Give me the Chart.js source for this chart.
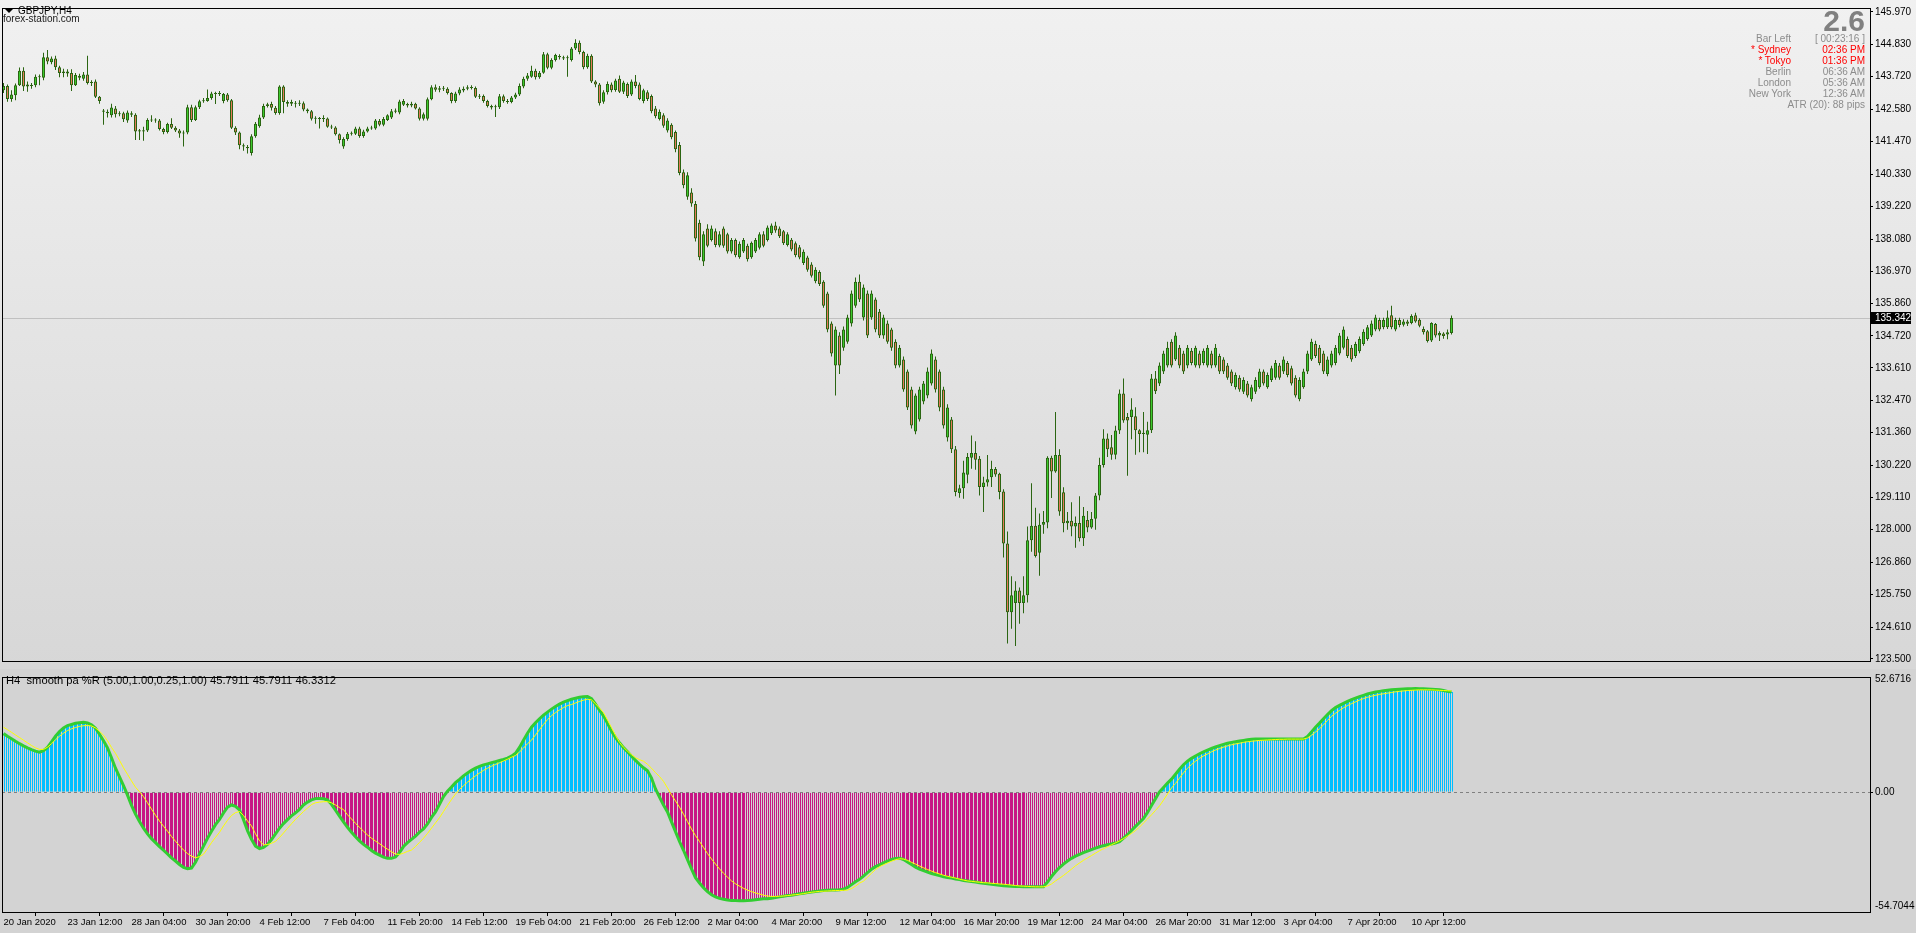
<!DOCTYPE html>
<html>
<head>
<meta charset="utf-8">
<script src="https://cdn.jsdelivr.net/npm/chart.js@4.4.1/dist/chart.umd.min.js"></script>
<style>
  body { margin: 0; width: 1916px; height: 933px; overflow: hidden; background: #d3d3d3; position: relative; font-family: 'Liberation Sans', Arial, sans-serif; }
  #main_box { position: absolute; left: 0; top: 0; width: 1916px; height: 669px; background: linear-gradient(to bottom, #f1f1f1, #d7d7d7); }
  #ind_box { position: absolute; left: 0; top: 669px; width: 1916px; height: 264px; background: #d3d3d3; }
  canvas { position: absolute; left: 0; top: 0; }
  .txt { position: absolute; white-space: nowrap; font-size: 10px; line-height: 12px; }
  .gray { color: #8c8c8c; }
  .red { color: #ff0000; }
  .lab { right: 125px; text-align: right; }
  .val { right: 51px; text-align: right; }
  #tri { position: absolute; left: 5px; top: 9px; width: 0; height: 0; border-left: 4px solid transparent; border-right: 4px solid transparent; border-top: 4px solid #000; }
</style>
</head>
<body>
<div id="main_box"><canvas id="mainChart" width="1916" height="669"></canvas></div>
<div id="ind_box"><canvas id="indChart" width="1916" height="264"></canvas></div>

<div id="tri"></div>
<div class="txt" style="left:18px; top:5px; color:#000;">GBPJPY,H4</div>
<div class="txt" style="left:3px; top:13px; color:#202020;">forex-station.com</div>

<div class="txt" style="right:51px; top:6px; font-size:30px; line-height:30px; font-weight:bold; color:#808080;">2.6</div>
<div class="txt gray lab" style="top:33px;">Bar Left</div>
<div class="txt gray val" style="top:33px;">[ 00:23:16 ]</div>
<div class="txt red lab" style="top:44px;">* Sydney</div>
<div class="txt red val" style="top:44px;">02:36 PM</div>
<div class="txt red lab" style="top:55px;">* Tokyo</div>
<div class="txt red val" style="top:55px;">01:36 PM</div>
<div class="txt gray lab" style="top:66px;">Berlin</div>
<div class="txt gray val" style="top:66px;">06:36 AM</div>
<div class="txt gray lab" style="top:77px;">London</div>
<div class="txt gray val" style="top:77px;">05:36 AM</div>
<div class="txt gray lab" style="top:88px;">New York</div>
<div class="txt gray val" style="top:88px;">12:36 AM</div>
<div class="txt gray val" style="top:99px;">ATR (20): 88 pips</div>

<div class="txt" style="left:6px; top:674px; font-size:11.2px; color:#000;">H4&nbsp; smooth pa %R (5.00,1.00,0.25,1.00) 45.7911 45.7911 46.3312</div>

<script>
// GBPJPY H4 candles, one value per bar
const opens = [
  143.25,143.40,142.95,143.08,143.42,143.93,143.38,143.42,143.42,143.70,
  143.68,144.40,144.22,144.35,144.05,143.85,143.90,143.85,143.42,143.75,
  143.65,143.80,143.50,143.55,143.02,142.55,142.50,142.38,142.62,142.42,
  142.45,142.20,142.45,142.40,141.82,141.86,141.85,142.22,142.20,142.20,
  141.90,141.80,142.08,141.95,141.85,141.75,141.78,142.66,142.22,142.66,
  142.87,142.88,142.98,143.14,143.12,142.88,143.10,142.90,141.95,141.78,
  141.34,141.28,141.07,141.65,142.00,142.30,142.70,142.77,142.64,142.46,
  143.38,142.84,142.78,142.82,142.78,142.80,142.58,142.52,142.26,142.28,
  142.25,142.27,141.98,141.96,141.72,141.30,141.56,141.74,141.74,141.92,
  141.66,141.82,141.92,141.92,142.18,142.05,142.22,142.30,142.50,142.48,
  142.75,142.77,142.72,142.78,142.62,142.26,142.26,142.94,143.35,143.27,
  143.32,143.30,143.15,142.88,143.14,143.24,143.30,143.35,143.33,143.02,
  143.05,142.88,142.70,142.66,142.66,143.04,142.88,142.84,143.00,143.10,
  143.38,143.65,143.72,143.93,143.70,143.86,144.50,144.03,144.30,144.44,
  144.40,144.36,144.30,144.70,144.90,144.58,144.05,144.45,143.55,143.45,
  142.85,143.18,143.45,143.26,143.65,143.20,143.47,143.10,143.55,143.45,
  142.88,143.18,143.05,142.62,142.25,142.38,141.85,142.05,141.80,141.35,
  140.40,139.55,139.70,139.30,138.65,137.30,138.45,138.05,138.35,137.86,
  138.45,138.25,137.65,138.05,137.45,137.65,137.85,137.45,137.65,137.78,
  138.25,138.05,138.28,138.55,138.45,138.35,137.88,138.06,137.94,137.80,
  137.25,137.44,137.20,136.62,136.94,136.60,136.19,135.15,133.69,134.73,
  134.31,134.52,135.15,135.77,136.60,135.36,136.19,135.36,135.98,135.56,
  134.73,135.15,134.94,134.52,133.69,133.90,133.48,132.86,131.40,131.82,
  132.44,132.65,133.07,133.90,133.48,132.86,131.19,131.82,130.78,129.26,
  129.43,129.90,130.49,130.65,130.45,129.47,129.63,129.81,130.10,129.93,
  129.32,127.51,125.12,125.44,125.88,125.44,125.71,127.62,128.13,127.19,
  128.16,128.24,130.49,130.01,130.58,129.29,128.21,128.30,128.10,128.22,
  127.69,128.33,128.07,128.37,129.18,130.24,131.16,130.85,130.59,131.43,
  132.72,131.90,131.90,131.93,131.44,131.31,131.29,131.44,133.24,133.07,
  133.48,133.69,134.52,133.90,134.31,134.11,133.69,134.20,133.69,134.11,
  133.78,133.69,134.11,133.69,134.02,133.90,133.69,133.48,132.94,133.27,
  132.78,133.07,132.52,132.78,132.94,133.48,132.94,133.19,133.27,133.69,
  133.48,133.78,133.60,133.27,132.52,132.94,133.48,133.90,134.44,134.31,
  134.11,133.40,133.69,133.78,134.11,134.31,134.61,134.31,134.02,134.19,
  134.44,134.61,134.73,134.94,135.27,135.02,135.02,135.44,134.94,135.27,
  135.11,135.22,135.17,135.44,135.28,134.96,134.88,134.56,135.13,134.73,
  134.80,134.77,134.82
]
const highs = [
  143.50,143.45,143.25,143.48,144.04,144.05,143.55,143.50,143.80,143.80,
  144.55,144.65,144.42,144.45,144.10,144.00,143.98,143.98,143.85,143.82,
  143.88,144.45,143.60,143.62,143.05,142.60,142.58,142.78,142.70,142.52,
  142.50,142.55,142.52,142.45,141.90,141.98,142.28,142.38,142.28,142.25,
  141.95,142.12,142.28,142.00,141.90,141.85,142.75,142.75,142.72,142.92,
  142.98,143.28,143.20,143.20,143.22,143.15,143.15,142.95,142.00,141.82,
  141.40,141.35,141.72,142.15,142.40,142.78,142.82,142.85,142.70,143.42,
  143.42,142.90,142.92,142.88,142.90,142.86,142.62,142.56,142.35,142.32,
  142.38,142.30,142.05,142.00,141.75,141.62,141.80,141.82,141.98,141.98,
  141.88,141.98,142.02,142.25,142.25,142.32,142.42,142.60,142.62,142.92,
  142.95,142.82,142.85,142.82,142.66,142.48,143.00,143.42,143.45,143.40,
  143.40,143.35,143.18,143.20,143.35,143.38,143.42,143.42,143.38,143.12,
  143.10,142.92,142.75,142.75,143.12,143.10,142.95,143.05,143.16,143.48,
  143.72,143.85,144.10,144.00,143.92,144.58,144.55,144.36,144.52,144.50,
  144.45,144.46,144.75,145.02,144.98,144.62,144.52,144.50,143.60,143.50,
  143.25,143.55,143.52,143.65,143.76,143.58,143.52,143.62,143.78,143.52,
  143.30,143.25,143.10,142.70,142.58,142.45,142.28,142.10,141.85,141.45,
  140.50,140.40,139.85,139.40,138.75,138.35,138.60,138.55,138.45,138.35,
  138.52,138.30,138.12,138.10,138.00,138.12,137.92,138.00,138.12,138.32,
  138.35,138.55,138.62,138.68,138.52,138.40,138.32,138.12,138.00,137.88,
  137.72,137.50,137.28,137.10,137.00,136.65,136.25,135.22,135.05,134.85,
  135.05,135.45,136.30,136.75,136.85,136.50,136.30,136.30,136.05,135.65,
  135.45,135.25,135.00,134.60,134.40,134.00,133.55,132.95,132.72,132.95,
  133.15,133.62,134.25,134.00,133.55,132.95,132.35,131.90,130.90,129.55,
  130.38,130.65,131.26,131.06,130.55,129.83,130.58,130.38,130.17,129.97,
  129.39,127.93,126.37,126.20,125.98,126.37,128.10,129.60,128.75,128.55,
  128.64,130.54,130.56,132.08,130.78,129.46,128.60,128.94,128.45,129.15,
  128.78,128.64,128.60,129.26,130.49,131.48,131.33,131.28,131.60,132.86,
  133.24,132.04,132.55,132.24,131.48,132.08,131.74,133.40,133.50,133.80,
  134.20,134.52,134.60,134.85,134.40,134.20,134.40,134.30,134.38,134.20,
  134.28,134.40,134.20,134.44,134.10,133.98,133.78,133.55,133.45,133.35,
  133.28,133.15,133.02,133.28,133.58,133.55,133.45,133.68,133.88,133.78,
  134.00,133.85,133.68,133.35,133.28,133.58,134.20,134.62,134.55,134.40,
  134.20,134.00,134.20,134.40,134.82,135.05,134.70,134.40,134.52,134.70,
  134.95,135.10,135.25,135.45,135.35,135.35,135.60,135.77,135.35,135.35,
  135.30,135.28,135.47,135.52,135.33,135.05,134.92,135.19,135.17,134.88,
  134.85,134.94,135.43
]
const lows = [
  143.15,142.85,142.85,142.90,143.40,143.22,143.20,143.30,143.35,143.42,
  143.60,144.15,144.15,143.95,143.70,143.70,143.72,143.22,143.40,143.60,
  143.58,143.45,143.40,142.98,142.78,142.05,142.30,142.30,142.30,142.35,
  142.15,142.12,142.32,141.52,141.52,141.50,141.80,142.15,142.12,141.85,
  141.72,141.75,141.90,141.80,141.60,141.30,141.72,142.15,142.18,142.60,
  142.82,142.85,142.92,142.77,143.05,142.80,142.85,141.90,141.70,141.20,
  141.15,141.05,140.98,141.60,141.95,142.25,142.65,142.55,142.40,142.40,
  142.45,142.68,142.70,142.65,142.70,142.52,142.45,142.20,142.09,141.92,
  142.15,141.95,141.90,141.68,141.40,141.22,141.50,141.68,141.70,141.60,
  141.60,141.78,141.88,141.88,142.00,142.00,142.18,142.25,142.45,142.42,
  142.70,142.65,142.66,142.58,142.20,142.20,142.20,142.90,143.20,143.18,
  143.22,143.10,142.80,142.82,143.08,143.18,143.25,143.28,142.98,142.95,
  142.82,142.65,142.58,142.32,142.60,142.82,142.78,142.80,142.95,143.05,
  143.32,143.58,143.68,143.62,143.65,143.82,143.98,143.98,144.25,144.32,
  144.30,143.72,144.25,144.65,144.50,143.98,144.00,143.50,143.35,142.72,
  142.78,143.10,143.18,143.20,143.15,143.12,142.98,143.05,143.32,142.90,
  142.80,142.88,142.45,142.28,142.20,141.95,141.78,141.55,141.10,140.30,
  139.85,139.45,139.20,138.00,137.35,137.15,137.80,138.00,137.80,137.80,
  137.78,137.58,137.58,137.45,137.40,137.60,137.30,137.40,137.60,137.72,
  137.80,138.00,138.22,138.30,138.12,137.88,137.82,137.66,137.45,137.38,
  137.18,136.95,136.75,136.55,136.45,135.70,134.85,134.00,132.65,133.40,
  134.20,134.45,135.05,135.70,135.90,135.25,134.65,135.28,134.85,134.65,
  134.62,134.45,134.20,133.60,133.62,132.78,132.15,131.50,131.30,131.75,
  132.35,132.55,133.00,132.75,132.10,131.50,131.05,130.65,129.15,129.10,
  129.06,129.60,130.11,130.07,129.18,128.60,129.49,129.47,129.83,129.05,
  127.02,124.04,124.55,123.95,124.72,125.09,125.46,127.22,127.02,126.39,
  127.85,128.04,129.09,129.97,128.47,127.90,127.99,127.76,127.36,127.58,
  127.42,127.90,128.02,127.99,129.01,130.15,130.51,130.42,130.44,131.31,
  131.70,129.86,131.13,130.59,130.68,130.68,130.62,131.35,132.70,132.98,
  133.40,133.62,133.62,133.85,133.60,133.40,133.60,133.70,133.62,133.60,
  133.70,133.62,133.60,133.62,133.40,133.40,133.20,132.98,132.86,132.78,
  132.70,132.58,132.44,132.70,132.88,133.00,132.88,133.12,133.20,133.20,
  133.40,133.28,133.00,132.58,132.45,132.88,133.40,133.85,133.95,133.70,
  133.40,133.32,133.62,133.70,134.05,134.25,133.95,133.82,133.95,134.12,
  134.38,134.55,134.68,134.88,134.88,134.95,134.96,134.95,134.88,135.02,
  135.05,135.06,135.12,135.18,135.02,134.77,134.49,134.51,134.66,134.54,
  134.62,134.60,134.77
]
const closes = [
  143.40,142.95,143.10,143.42,143.93,143.38,143.45,143.40,143.72,143.74,
  144.40,144.25,144.35,144.05,143.85,143.90,143.83,143.42,143.78,143.68,
  143.80,143.50,143.52,143.02,142.88,142.50,142.45,142.65,142.42,142.45,
  142.24,142.48,142.40,141.82,141.86,141.82,142.22,142.20,142.22,141.90,
  141.80,142.08,141.95,141.85,141.75,141.78,142.66,142.22,142.66,142.87,
  142.90,142.98,143.14,143.12,143.15,143.12,142.90,141.95,141.78,141.34,
  141.30,141.24,141.65,142.09,142.30,142.70,142.76,142.64,142.46,143.38,
  142.84,142.78,142.84,142.78,142.82,142.58,142.52,142.26,142.28,142.25,
  142.27,141.98,141.96,141.72,141.52,141.56,141.74,141.76,141.92,141.66,
  141.82,141.92,141.95,142.20,142.05,142.25,142.38,142.52,142.55,142.86,
  142.88,142.72,142.78,142.62,142.26,142.42,142.94,143.35,143.27,143.32,
  143.30,143.15,142.88,143.14,143.28,143.30,143.35,143.33,143.02,143.05,
  142.88,142.70,142.65,142.68,143.04,142.88,142.84,143.00,143.10,143.40,
  143.65,143.76,143.93,143.70,143.86,144.50,144.03,144.30,144.47,144.40,
  144.35,144.40,144.70,144.90,144.58,144.05,144.45,143.55,143.45,142.80,
  143.18,143.47,143.25,143.59,143.20,143.52,143.05,143.55,143.40,142.95,
  143.25,142.95,142.52,142.35,142.50,142.02,142.20,141.62,141.20,140.38,
  139.95,140.30,139.32,138.10,137.45,138.25,137.85,138.45,137.88,138.25,
  137.85,137.65,138.05,137.52,137.92,138.05,137.38,137.95,138.05,138.25,
  137.85,138.48,138.55,138.38,138.18,137.94,138.25,137.72,137.52,137.44,
  137.64,137.02,136.81,137.02,136.52,135.77,134.94,134.11,134.94,133.69,
  134.94,135.36,136.19,136.60,135.98,136.40,134.73,136.19,134.94,134.73,
  135.36,134.52,134.31,133.69,134.31,132.86,132.23,131.61,132.65,132.86,
  133.07,133.48,134.11,132.86,132.23,131.61,132.23,130.78,129.30,129.43,
  129.98,130.51,130.65,130.42,129.47,129.63,129.74,130.10,129.91,129.30,
  127.51,125.12,125.71,125.88,125.44,125.71,127.62,128.13,127.08,128.16,
  128.26,130.49,130.01,130.58,128.62,128.21,128.30,128.10,128.22,127.69,
  128.47,128.07,128.36,129.18,130.24,131.16,130.78,130.59,131.43,132.72,
  131.78,131.78,132.16,131.44,131.31,131.36,131.44,133.24,132.80,133.69,
  134.11,134.31,133.69,134.73,133.69,133.48,134.31,133.78,134.31,133.69,
  134.20,134.31,133.69,134.31,133.48,133.48,133.27,133.07,133.36,132.86,
  133.19,132.65,132.94,133.19,133.48,133.07,133.36,133.60,133.78,133.27,
  133.90,133.36,133.07,132.65,133.19,133.48,134.11,134.52,134.02,133.78,
  133.48,133.90,134.11,134.31,134.73,134.94,134.02,133.90,134.44,134.61,
  134.86,135.02,135.15,135.36,134.94,135.27,135.36,135.02,135.27,135.10,
  135.22,135.14,135.41,135.22,135.07,134.85,134.54,135.17,134.73,134.82,
  134.72,134.85,135.34
]
const lastPrice = 135.342

// smooth pa %R: histogram / main line and signal line
const histValues = [
  26.8,25.6,24.5,23.3,22.2,21.2,20.3,19.5,18.8,18.3,
  19.0,20.5,23.0,25.6,27.8,29.4,30.5,31.0,31.5,31.8,
  32.0,31.7,30.8,29.3,26.5,23.5,20.3,15.8,11.0,7.0,
  3.0,-1.3,-6.0,-10.0,-13.4,-16.4,-19.0,-21.2,-23.0,-24.8,
  -26.5,-28.2,-30.0,-31.4,-33.0,-34.3,-34.9,-34.6,-32.0,-28.2,
  -24.6,-21.0,-17.8,-14.8,-12.4,-9.4,-6.8,-5.8,-6.4,-8.0,
  -12.5,-17.5,-21.5,-24.6,-25.7,-25.2,-23.8,-21.6,-19.0,-16.4,
  -14.3,-12.5,-10.8,-9.4,-7.8,-5.8,-4.5,-3.5,-2.9,-2.8,
  -3.0,-3.5,-5.5,-8.2,-10.9,-13.5,-16.0,-18.3,-20.3,-22.2,
  -23.8,-25.1,-26.6,-27.8,-28.7,-29.6,-30.2,-30.2,-29.6,-27.5,
  -24.8,-23.0,-21.5,-20.0,-18.2,-16.8,-14.5,-11.5,-9.0,-5.5,
  -2.0,0.5,2.4,4.4,5.9,7.5,8.8,10.0,11.0,11.8,
  12.5,13.0,13.5,14.0,14.5,15.0,15.6,16.5,17.8,20.5,
  23.8,27.0,29.7,31.8,33.6,35.2,36.6,38.0,39.2,40.3,
  41.2,41.9,42.5,43.0,43.4,43.7,43.8,42.8,40.3,37.5,
  34.9,31.5,28.0,25.0,22.6,20.4,18.5,16.5,14.6,12.8,
  11.2,9.8,6.5,1.5,-2.2,-5.8,-9.0,-13.5,-18.0,-22.5,
  -26.5,-30.8,-35.0,-39.0,-41.5,-43.6,-45.4,-46.8,-47.8,-48.5,
  -48.9,-49.2,-49.4,-49.5,-49.55,-49.6,-49.5,-49.3,-49.1,-48.9,
  -48.7,-48.6,-48.4,-48.1,-47.8,-47.5,-47.2,-47.0,-46.7,-46.4,
  -46.1,-45.8,-45.6,-45.3,-45.1,-44.9,-44.8,-44.7,-44.6,-44.5,
  -44.3,-43.5,-42.2,-40.9,-39.8,-38.3,-36.7,-35.2,-34.0,-33.2,
  -32.3,-31.5,-30.7,-30.2,-30.1,-30.7,-31.8,-33.0,-34.2,-35.1,
  -35.8,-36.5,-37.1,-37.6,-38.1,-38.6,-38.9,-39.2,-39.6,-39.9,
  -40.3,-40.5,-40.8,-41.0,-41.3,-41.6,-41.8,-42.0,-42.3,-42.5,
  -42.7,-42.8,-42.9,-43.0,-43.1,-43.2,-43.2,-43.2,-43.2,-43.2,
  -43.2,-41.0,-38.5,-36.3,-34.4,-32.8,-31.4,-30.2,-29.2,-28.4,
  -27.6,-26.9,-26.2,-25.5,-24.9,-24.4,-24.0,-23.6,-23.2,-22.6,
  -21.0,-19.4,-17.5,-15.6,-13.8,-12.0,-9.2,-6.0,-2.9,0.2,
  2.2,4.2,6.0,8.2,10.5,12.6,14.2,15.5,16.6,17.6,
  18.5,19.3,20.0,20.7,21.3,21.9,22.4,22.8,23.1,23.4,
  23.7,24.0,24.2,24.3,24.3,24.3,24.3,24.3,24.3,24.3,
  24.3,24.3,24.3,24.3,24.3,24.3,25.5,27.6,29.7,31.6,
  33.6,35.5,37.3,38.7,39.7,40.6,41.5,42.3,43.0,43.7,
  44.3,44.9,45.4,45.8,46.1,46.4,46.6,46.8,47.0,47.1,
  47.2,47.3,47.3,47.4,47.3,47.3,47.2,47.1,47.0,46.8,
  46.5,46.1,45.8
]
const signalValues = [
  29.7,28.6,27.4,26.2,25.0,23.8,22.6,21.4,20.3,19.6,
  19.6,20.6,22.2,24.0,25.6,27.0,28.2,29.0,29.6,30.1,
  30.4,30.5,30.3,29.4,27.9,26.0,23.5,20.5,17.8,14.6,
  11.2,8.2,5.2,2.3,0.3,-2.0,-4.8,-7.7,-10.5,-13.2,
  -15.5,-17.8,-20.2,-22.4,-24.4,-26.4,-28.0,-29.2,-29.9,-29.4,
  -28.3,-25.8,-23.0,-20.6,-18.3,-15.4,-12.8,-10.6,-9.3,-8.8,
  -10.6,-13.1,-15.4,-19.0,-22.2,-24.0,-23.9,-23.3,-22.4,-20.7,
  -18.6,-16.5,-14.4,-12.4,-10.6,-8.8,-7.2,-5.6,-4.8,-4.5,
  -4.3,-4.3,-4.8,-5.8,-7.0,-7.9,-10.3,-12.2,-14.2,-16.0,
  -17.8,-19.5,-21.0,-22.3,-23.5,-24.8,-26.0,-27.2,-28.2,-28.4,
  -27.8,-27.0,-26.4,-24.8,-22.9,-21.0,-18.8,-16.4,-14.0,-11.6,
  -8.8,-6.0,-3.3,-0.8,1.3,3.0,4.6,6.1,7.5,8.8,
  10.0,11.0,11.9,12.7,13.5,14.3,15.1,16.0,16.8,18.4,
  20.2,22.2,23.8,26.2,28.6,31.0,33.2,35.0,36.4,37.6,
  38.7,39.6,40.1,40.8,41.5,42.1,42.5,42.2,40.5,38.5,
  36.4,33.0,29.5,26.0,22.8,20.6,18.8,17.2,15.8,14.9,
  14.2,12.8,11.0,9.0,7.2,5.0,2.0,-1.2,-4.0,-6.8,
  -10.0,-13.4,-16.8,-19.8,-22.5,-25.2,-28.0,-30.5,-32.8,-35.0,
  -37.0,-38.8,-40.5,-41.8,-42.9,-43.9,-44.7,-45.4,-46.0,-46.5,
  -47.0,-47.4,-47.6,-47.6,-47.5,-47.4,-47.2,-47.0,-46.8,-46.6,
  -46.3,-46.0,-45.7,-45.5,-45.3,-45.2,-45.1,-45.0,-44.9,-44.9,
  -44.8,-44.7,-44.0,-42.9,-41.5,-40.6,-38.8,-37.0,-35.3,-34.0,
  -33.1,-32.3,-31.5,-30.8,-30.4,-30.5,-31.1,-32.0,-32.8,-33.7,
  -34.5,-35.3,-36.0,-36.7,-37.3,-37.9,-38.4,-38.8,-39.2,-39.7,
  -40.1,-40.5,-40.7,-40.9,-41.1,-41.3,-41.4,-41.6,-41.7,-41.9,
  -42.0,-42.2,-42.4,-42.6,-42.8,-42.9,-43.0,-43.1,-43.2,-43.2,
  -43.2,-42.8,-41.9,-40.5,-39.3,-38.0,-36.6,-35.1,-33.6,-32.3,
  -31.1,-30.0,-28.9,-27.8,-26.7,-25.8,-24.9,-24.0,-23.1,-22.2,
  -21.2,-20.0,-18.8,-17.5,-15.9,-14.0,-12.2,-10.3,-8.3,-6.2,
  -3.6,-0.8,2.0,4.0,6.5,8.9,11.0,12.7,14.2,15.5,
  16.6,17.5,18.5,19.3,20.0,20.6,21.2,21.7,22.1,22.4,
  22.8,23.1,23.3,23.5,23.7,23.8,23.9,24.0,24.1,24.2,
  24.2,24.3,24.3,24.3,24.3,24.3,24.8,26.0,27.5,29.0,
  30.8,32.8,34.7,36.1,37.4,38.6,39.6,40.5,41.3,42.1,
  42.8,43.4,43.9,44.3,44.7,45.0,45.3,45.6,45.9,46.1,
  46.3,46.5,46.6,46.7,46.8,46.8,46.8,46.8,46.7,46.6,
  46.5,46.4,46.3
]

const priceTicks = [145.970, 144.830, 143.720, 142.580, 141.470, 140.330, 139.220, 138.080, 136.970, 135.860,
  134.720, 133.610, 132.470, 131.360, 130.220, 129.110, 128.000, 126.860, 125.750, 124.610, 123.500]
const indTicks = [52.6716, 0, -54.7044]
const indTickLabels = ['52.6716', '0.00', '-54.7044']
const timeLabels = ['20 Jan 2020', '23 Jan 12:00', '28 Jan 04:00', '30 Jan 20:00', '4 Feb 12:00', '7 Feb 04:00',
  '11 Feb 20:00', '14 Feb 12:00', '19 Feb 04:00', '21 Feb 20:00', '26 Feb 12:00', '2 Mar 04:00', '4 Mar 20:00',
  '9 Mar 12:00', '12 Mar 04:00', '16 Mar 20:00', '19 Mar 12:00', '24 Mar 04:00', '26 Mar 20:00', '31 Mar 12:00',
  '3 Apr 04:00', '7 Apr 20:00', '10 Apr 12:00']
const barsPerLabel = 16

const outlineColor = '#2b6512'
const bullFill = '#3ccb2e'
const bearFill = '#e47a5a'
const upColor = '#00bfff'
const downColor = '#c71585'
const axisFont = { family: "'Liberation Sans', Arial, sans-serif", size: 10 }
const timeFont = { family: "'Liberation Sans', Arial, sans-serif", size: 9.5 }

// x range shared by both panels: 4px per bar, visible empty space on the right
const xMin = -0.375
const xMax = 466.625

const bodyData = opens.map((o, i) => ({ x: i, y: [o, closes[i]] }))
const wickData = lows.map((l, i) => ({ x: i, y: [l, highs[i]] }))
const bodyColors = opens.map((o, i) => closes[i] >= o ? bullFill : bearFill)

const histData = histValues.map((v, i) => ({ x: i, y: v }))
const signalData = signalValues.map((v, i) => ({ x: i, y: v }))
const histFill = histValues.map((v, i) => {
  const prev = i > 0 ? histValues[i - 1] : v
  if (v >= 0) return v > prev ? upColor : 'rgba(0,0,0,0)'
  return v < prev ? downColor : 'rgba(0,0,0,0)'
})
const histBorder = histValues.map(v => v >= 0 ? upColor : downColor)

const frame = {
  id: 'frame',
  afterDraw(chart) {
    const { ctx, chartArea } = chart
    ctx.save()
    ctx.strokeStyle = '#000'
    ctx.lineWidth = 1
    ctx.strokeRect(chartArea.left + 0.5, chartArea.top + 0.5, chartArea.right - chartArea.left, chartArea.bottom - chartArea.top)
    ctx.restore()
  }
}

const priceLine = {
  id: 'priceLine',
  beforeDatasetsDraw(chart) {
    const { ctx, chartArea } = chart
    const y = Math.round(chart.scales.y.getPixelForValue(lastPrice)) + 0.5
    ctx.save()
    ctx.strokeStyle = '#c0c0c0'
    ctx.beginPath()
    ctx.moveTo(chartArea.left, y)
    ctx.lineTo(chartArea.right, y)
    ctx.stroke()
    ctx.restore()
  },
  afterDraw(chart) {
    const { ctx, chartArea } = chart
    const y = Math.round(chart.scales.y.getPixelForValue(lastPrice))
    ctx.save()
    ctx.fillStyle = '#000'
    ctx.fillRect(chartArea.right + 1, y - 6, 40, 12)
    ctx.fillStyle = '#fff'
    ctx.font = "10px 'Liberation Sans', Arial"
    ctx.textBaseline = 'middle'
    ctx.fillText(lastPrice.toFixed(3), chartArea.right + 5, y + 0.5)
    ctx.restore()
  }
}

const zeroLine = {
  id: 'zeroLine',
  beforeDatasetsDraw(chart) {
    const { ctx, chartArea } = chart
    const y = Math.round(chart.scales.y.getPixelForValue(0)) + 0.5
    ctx.save()
    ctx.strokeStyle = '#808080'
    ctx.setLineDash([3, 3])
    ctx.beginPath()
    ctx.moveTo(chartArea.left, y)
    ctx.lineTo(chartArea.right, y)
    ctx.stroke()
    ctx.restore()
  }
}

const mainChart = new Chart(document.getElementById('mainChart'), {
  type: 'bar',
  data: {
    datasets: [
      {
        data: bodyData,
        backgroundColor: bodyColors,
        borderColor: outlineColor,
        borderWidth: 1,
        borderSkipped: false,
        barThickness: 3,
        minBarLength: 1,
        inflateAmount: 0,
        grouped: false,
        order: 0
      },
      {
        data: wickData,
        backgroundColor: outlineColor,
        borderWidth: 0,
        barThickness: 1,
        inflateAmount: 0,
        grouped: false,
        order: 1
      }
    ]
  },
  options: {
    responsive: false,
    animation: false,
    events: [],
    layout: { padding: { left: 2, top: 2, right: 0, bottom: 1 }, autoPadding: false },
    plugins: { legend: { display: false }, tooltip: { enabled: false } },
    scales: {
      x: { type: 'linear', min: xMin, max: xMax, bounds: 'data', offset: false, display: false },
      y: {
        position: 'right',
        min: 123.43,
        max: 146.106,
        bounds: 'data',
        afterFit(scale) { scale.width = 46 },
        afterBuildTicks(scale) { scale.ticks = priceTicks.map(v => ({ value: v })) },
        ticks: { callback: v => v.toFixed(3), color: '#000', font: axisFont, padding: 2 },
        grid: { drawOnChartArea: false, drawTicks: true, tickLength: 3, tickColor: '#000' },
        border: { display: true, color: '#000' }
      }
    }
  },
  plugins: [frame, priceLine]
})

const indChart = new Chart(document.getElementById('indChart'), {
  type: 'bar',
  data: {
    datasets: [
      {
        type: 'line',
        data: signalData,
        borderColor: '#ffff00',
        borderWidth: 1,
        pointRadius: 0,
        order: 0
      },
      {
        type: 'line',
        data: histData,
        borderColor: '#32cd32',
        borderWidth: 3,
        pointRadius: 0,
        order: 1
      },
      {
        data: histData,
        backgroundColor: histFill,
        borderColor: histBorder,
        borderWidth: 1,
        barThickness: 3,
        inflateAmount: 0,
        grouped: false,
        order: 2
      }
    ]
  },
  options: {
    responsive: false,
    animation: false,
    events: [],
    layout: { padding: { left: 2, top: 1, right: 0, bottom: 0 }, autoPadding: false },
    plugins: { legend: { display: false }, tooltip: { enabled: false } },
    scales: {
      x: {
        type: 'linear',
        min: xMin,
        max: xMax,
        bounds: 'data',
        offset: false,
        position: 'bottom',
        afterFit(scale) { scale.height = 21 },
        afterBuildTicks(scale) { scale.ticks = timeLabels.map((t, k) => ({ value: k * barsPerLabel })) },
        ticks: { autoSkip: false, maxRotation: 0, align: 'start', color: '#000', font: timeFont, padding: 1,
          callback: (v, idx) => timeLabels[idx] },
        grid: { drawOnChartArea: false, drawTicks: true, tickLength: 4, tickColor: '#000' },
        border: { display: true, color: '#000' }
      },
      y: {
        position: 'right',
        min: -54.7044,
        max: 52.6716,
        bounds: 'data',
        afterFit(scale) { scale.width = 46 },
        // labels of the two outer values sit just inside the panel, like the terminal does
        afterBuildTicks(scale) { scale.ticks = indTicks.map(v => ({ value: v === 0 ? 0 : (v > 0 ? v - 1.2 : v + 2.5) })) },
        ticks: { callback: (v, idx) => indTickLabels[idx], color: '#000', font: axisFont, padding: 2 },
        grid: { drawOnChartArea: false, drawTicks: true, tickLength: 3,
          tickColor: ctx => ctx.tick && ctx.tick.value === 0 ? '#000' : 'rgba(0,0,0,0)' },
        border: { display: true, color: '#000' }
      }
    }
  },
  plugins: [frame, zeroLine]
})
</script>
</body>
</html>
